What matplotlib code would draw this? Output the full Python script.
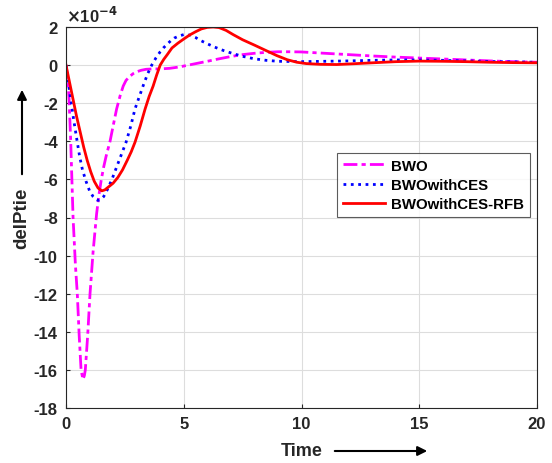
import matplotlib.pyplot as plt

plt.rcParams['font.family'] = ['Liberation Sans', 'DejaVu Sans']
plt.rcParams['font.weight'] = 'bold'
plt.rcParams['axes.unicode_minus'] = False

# values in units of 1e-4
t_bwo = [0, 0.07, 0.13, 0.2, 0.3, 0.4, 0.48, 0.56, 0.64, 0.72, 0.78, 0.82, 0.92, 1.02, 1.15,
         1.3, 1.4, 1.5, 1.6, 1.7, 1.87, 2.0, 2.15, 2.3, 2.43, 2.55, 2.7, 2.85, 3.0, 3.2, 3.4,
         3.7, 4.0, 4.4, 4.8, 5.4, 6.0, 6.5, 7.0, 7.5, 8.0, 8.5, 9.0, 9.5, 10, 11, 12, 13, 14,
         15, 16, 17, 18, 19, 20]
v_bwo = [0, -0.6, -1.8, -4.0, -8.0, -10.5, -12.0, -14.2, -16.0, -16.5, -16.3, -16.0, -14.2, -12.0, -9.8,
         -7.8, -6.8, -6.0, -5.35, -4.8, -4.0, -3.2, -2.3, -1.6, -1.1, -0.8, -0.6, -0.45, -0.35, -0.27, -0.22,
         -0.2, -0.2, -0.17, -0.1, 0.05, 0.2, 0.33, 0.45, 0.55, 0.62, 0.67, 0.7, 0.7, 0.69, 0.62, 0.55, 0.48, 0.42,
         0.37, 0.32, 0.27, 0.22, 0.18, 0.15]

t_ces = [0, 0.1, 0.2, 0.33, 0.46, 0.58, 0.7, 0.85, 1.0, 1.15, 1.27, 1.37, 1.48, 1.6, 1.75, 1.95,
         2.15, 2.35, 2.55, 2.75, 2.93, 3.1, 3.3, 3.47, 3.64, 3.82, 4.0, 4.15, 4.3, 4.45, 4.6, 4.8,
         5.0, 5.15, 5.3, 5.5, 5.7, 6.0, 6.3, 6.7, 7.1, 7.5, 8.0, 8.5, 9.0, 10, 11, 12, 13, 14,
         15, 16, 17, 18, 19, 20]
v_ces = [0, -0.9, -1.8, -2.9, -3.9, -4.8, -5.5, -6.1, -6.6, -6.9, -7.05, -7.1, -7.05, -6.9, -6.55, -6.0,
         -5.35, -4.7, -4.05, -3.2, -2.3, -1.7, -1.0, -0.45, 0, 0.38, 0.7, 0.92, 1.1, 1.28, 1.42, 1.53,
         1.6, 1.6, 1.56, 1.45, 1.3, 1.12, 0.95, 0.76, 0.6, 0.46, 0.33, 0.25, 0.2, 0.18, 0.2, 0.22, 0.25, 0.27,
         0.27, 0.25, 0.22, 0.19, 0.17, 0.15]

t_rfb = [0, 0.15, 0.3, 0.45, 0.6, 0.75, 0.9, 1.05, 1.2, 1.36, 1.52, 1.65, 1.8, 2.0, 2.2, 2.4,
         2.6, 2.77, 2.93, 3.15, 3.36, 3.53, 3.7, 3.85, 4.0, 4.15, 4.3, 4.5, 4.75, 5.0, 5.25, 5.5,
         5.75, 6.0, 6.25, 6.5, 6.8, 7.1, 7.5, 8.0, 8.5, 8.95, 9.4, 9.8, 10.2, 10.8, 11.5, 12.2,
         13, 14, 15, 16, 17, 18, 19, 20]
v_rfb = [0, -0.9, -1.8, -2.7, -3.5, -4.3, -5.0, -5.6, -6.1, -6.45, -6.6, -6.55, -6.4, -6.2, -5.9, -5.5,
         -5.0, -4.55, -4.05, -3.2, -2.3, -1.65, -1.1, -0.52, 0, 0.3, 0.55, 0.9, 1.15, 1.37, 1.58, 1.75,
         1.9, 1.98, 2.0, 1.97, 1.82, 1.6, 1.33, 1.05, 0.76, 0.5, 0.28, 0.15, 0.08, 0.04, 0.03, 0.07,
         0.12, 0.18, 0.21, 0.2, 0.18, 0.15, 0.13, 0.12]

fig = plt.figure(figsize=(5.52, 4.64), dpi=100)
ax = fig.add_axes([66/552, 1-409/464, (537-66)/552, (409-28)/464])

ax.plot(t_bwo, v_bwo, color='magenta', linestyle=(0, (5, 1.5, 1.5, 1.5)), linewidth=2, label='BWO')
ax.plot(t_ces, v_ces, color='blue', linestyle=':', linewidth=2, label='BWOwithCES')
ax.plot(t_rfb, v_rfb, color='red', linestyle='-', linewidth=2, label='BWOwithCES-RFB')

ax.set_xlim(0, 20)
ax.set_ylim(-18, 2)
ax.set_xticks([0, 5, 10, 15, 20])
ax.set_yticks(range(-18, 3, 2))
ax.grid(True, color='#dddddd', linewidth=0.8)
ax.tick_params(direction='in', length=3, labelsize=12, colors='#262626', pad=6)
for lab in ax.get_xticklabels() + ax.get_yticklabels():
    lab.set_fontweight('bold')
for s in ax.spines.values():
    s.set_color('#262626')
    s.set_linewidth(0.8)

ax.text(0.0, 1.005, r'$\times$10$^{-4}$', transform=ax.transAxes, fontsize=12,
        color='#262626', va='bottom', ha='left', fontweight='bold')

leg = ax.legend(loc='upper left', bbox_to_anchor=(0.56, 0.69), fontsize=10.8,
                frameon=True, fancybox=False, edgecolor='#333333', handlelength=2.8,
                handletextpad=0.4, labelspacing=0.35, borderpad=0.4)
leg.get_frame().set_linewidth(0.8)
for txt in leg.get_texts():
    txt.set_fontweight('bold')

# axis labels with arrows
fig.text(22/552, 1-218/464, 'delPtie', rotation=90, ha='center', va='center',
         fontsize=13.5, fontweight='bold', color='#262626')
fig.text(302/552, 1-452/464, 'Time', ha='center', va='center',
         fontsize=13, fontweight='bold', color='#262626')
ax.annotate('', xy=(22/552, 1-88/464), xytext=(22/552, 1-178/464), xycoords='figure fraction',
            textcoords='figure fraction',
            arrowprops=dict(arrowstyle='-|>', color='black', lw=1.5, mutation_scale=14))
ax.annotate('', xy=(430/552, 1-452/464), xytext=(332/552, 1-452/464), xycoords='figure fraction',
            textcoords='figure fraction',
            arrowprops=dict(arrowstyle='-|>', color='black', lw=1.5, mutation_scale=14))

fig.savefig('out.png', dpi=100)
